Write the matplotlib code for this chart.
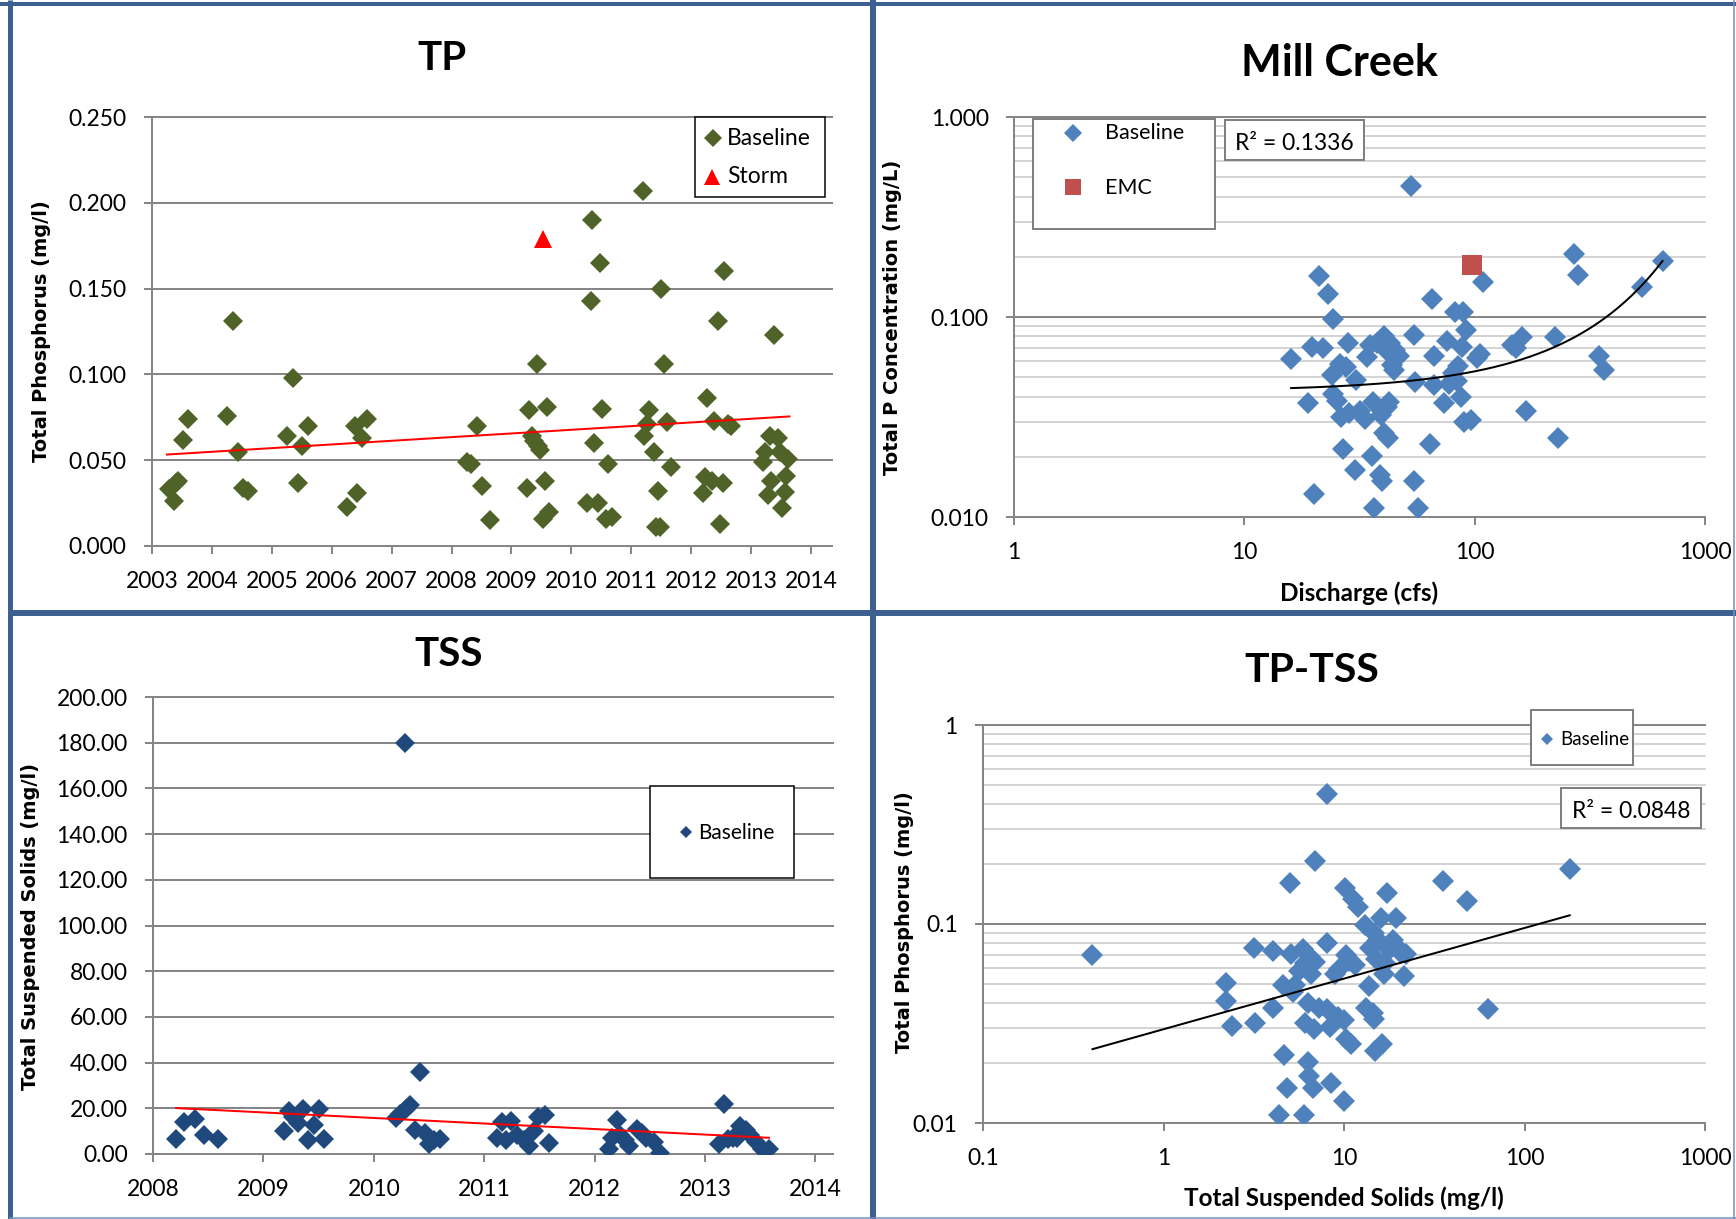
import numpy as np
import matplotlib
matplotlib.use("Agg")
import matplotlib.pyplot as plt
from matplotlib.ticker import NullLocator
from matplotlib.patches import Rectangle

# ---------------- data ----------------
# TP time series (decimal year, mg/l)
tp_baseline_year = [
    2003.28, 2003.36, 2003.40, 2003.44, 2003.51, 2003.60,
    2004.25, 2004.35, 2004.44, 2004.52, 2004.61,
    2005.25, 2005.35, 2005.43, 2005.51, 2005.60,
    2006.25, 2006.39, 2006.43, 2006.50, 2006.59,
    2008.26, 2008.33, 2008.42, 2008.51, 2008.64,
    2009.26, 2009.30, 2009.34, 2009.37, 2009.42, 2009.44, 2009.47, 2009.52, 2009.56, 2009.59, 2009.62,
    2010.26, 2010.32, 2010.35, 2010.38, 2010.45, 2010.48, 2010.51, 2010.58, 2010.61, 2010.67,
    2011.19, 2011.22, 2011.26, 2011.30, 2011.38, 2011.41, 2011.44, 2011.48, 2011.50, 2011.55, 2011.60, 2011.66,
    2012.20, 2012.23, 2012.27, 2012.34, 2012.38, 2012.44, 2012.48, 2012.53, 2012.55, 2012.62, 2012.67,
    2013.19, 2013.23, 2013.28, 2013.32, 2013.34, 2013.38, 2013.45, 2013.49, 2013.52, 2013.56, 2013.58, 2013.62,
]
tp_baseline_mgl = [
    0.0335, 0.026, 0.037, 0.038, 0.062, 0.074,
    0.076, 0.131, 0.055, 0.034, 0.032,
    0.064, 0.098, 0.037, 0.058, 0.070,
    0.023, 0.070, 0.031, 0.063, 0.074,
    0.049, 0.048, 0.070, 0.035, 0.015,
    0.034, 0.079, 0.064, 0.061, 0.106, 0.058, 0.056, 0.016, 0.038, 0.081, 0.020,
    0.025, 0.143, 0.190, 0.060, 0.025, 0.165, 0.080, 0.016, 0.048, 0.017,
    0.207, 0.064, 0.071, 0.079, 0.055, 0.011, 0.032, 0.011, 0.150, 0.106, 0.072, 0.046,
    0.031, 0.040, 0.086, 0.038, 0.073, 0.131, 0.013, 0.037, 0.160, 0.071, 0.070,
    0.049, 0.055, 0.030, 0.064, 0.038, 0.123, 0.063, 0.055, 0.022, 0.0315, 0.041, 0.0505,
]
tp_storm_year = [2009.52]
tp_storm_mgl = [0.179]
tp_trend_year = [2003.25, 2013.64]
tp_trend_mgl = [0.0533, 0.0755]
tp_year_ticks = list(range(2003, 2015))
tp_value_ticks = [0.0, 0.05, 0.10, 0.15, 0.20, 0.25]

# Mill Creek: discharge (cfs) vs total P (mg/L)
mc_discharge = [
    15.96, 18.9, 19.7, 20.0, 21.0, 22.0, 23.0, 24.0, 24.2, 24.2,
    25.3, 25.9, 26.2, 26.9, 27.6, 28.2, 28.6, 30.2, 30.5, 31.9,
    33.3, 34.1, 35.0, 35.9, 36.3, 36.7, 37.6, 38.8, 39.1, 39.6,
    40.2, 40.6, 41.4, 41.8, 42.0, 42.5, 43.1, 43.8, 44.6, 45.0,
    46.8, 53.0, 54.6, 54.8, 55.0, 56.6, 63.8, 65.2, 66.3, 66.3,
    73.9, 75.9, 77.4, 80.3, 81.8, 83.5, 85.0, 87.4, 88.3, 89.1,
    89.6, 91.9, 96.5, 102, 105.5, 108.7, 145, 151, 160, 167,
    223, 229, 271, 282, 346, 366, 532, 654,
]
mc_conc = [
    0.0616, 0.0372, 0.0711, 0.0130, 0.161, 0.070, 0.130, 0.0513, 0.098, 0.0412,
    0.038, 0.058, 0.0318, 0.022, 0.056, 0.0744, 0.033, 0.0171, 0.0486, 0.034,
    0.031, 0.063, 0.0728, 0.0201, 0.0378, 0.0111, 0.0744, 0.0162, 0.0325, 0.0151,
    0.0807, 0.0263, 0.068, 0.0355, 0.0249, 0.0378, 0.0744, 0.0575, 0.0544, 0.068,
    0.064, 0.451, 0.0151, 0.0815, 0.0474, 0.0111, 0.0232, 0.123, 0.0455, 0.064,
    0.0372, 0.076, 0.0465, 0.0525, 0.1065, 0.048, 0.0567, 0.0399, 0.0711, 0.1065,
    0.0297, 0.0859, 0.0306, 0.0622, 0.0652, 0.149, 0.0728, 0.0697, 0.0794, 0.034,
    0.0794, 0.0249, 0.207, 0.163, 0.064, 0.0544, 0.141, 0.1906,
]
mc_emc_discharge = [97.5]
mc_emc_conc = [0.182]
mc_fit_coef = [0.04252, 0.002294]        # C = a * exp(b * Q)
mc_fit_range = [15.96, 654]
mc_r2_label = "R² = 0.1336"
mc_x_ticks = [1, 10, 100, 1000]
mc_x_labels = ["1", "10", "100", "1000"]
mc_y_ticks = [0.01, 0.1, 1.0]
mc_y_labels = ["0.010", "0.100", "1.000"]

# TSS time series (decimal year, mg/l)
tss_year = [
    2008.21, 2008.28, 2008.38, 2008.46, 2008.59,
    2009.19, 2009.23, 2009.27, 2009.31, 2009.36, 2009.40, 2009.46, 2009.50, 2009.55,
    2010.20, 2010.24, 2010.28, 2010.29, 2010.33, 2010.37, 2010.42, 2010.46, 2010.50, 2010.55, 2010.60,
    2011.12, 2011.16, 2011.20, 2011.24, 2011.30, 2011.36, 2011.41, 2011.45, 2011.49, 2011.55, 2011.59,
    2012.13, 2012.16, 2012.20, 2012.23, 2012.28, 2012.31, 2012.38, 2012.43, 2012.47, 2012.54, 2012.59,
    2013.13, 2013.17, 2013.21, 2013.25, 2013.29, 2013.32, 2013.37, 2013.41, 2013.46, 2013.52, 2013.58,
]
tss_mgl = [
    6.5, 14, 15.3, 8.5, 6.5,
    9.9, 19, 16, 13.6, 19.6, 6, 12.8, 19.6, 6.5,
    15.6, 17.5, 180, 19.6, 21.3, 10.7, 35.7, 9.4, 4.3, 6, 6.5,
    6.8, 14, 6, 14.5, 8.5, 6, 3.7, 10.2, 16, 17, 4.8,
    2, 6.8, 15, 8.5, 6, 3.4, 11, 9.4, 6.8, 5.1, 0.3,
    4.3, 21.8, 6.5, 6.8, 6.8, 12.2, 10.5, 8.5, 5.1, 2, 2,
]
tss_trend_year = [2008.21, 2013.58]
tss_trend_mgl = [20.1, 7.1]
tss_year_ticks = list(range(2008, 2015))
tss_value_ticks = list(range(0, 201, 20))

# TP vs TSS (mg/l)
tptss_tss = [
    0.404, 2.22, 2.22, 2.39, 3.19, 3.21, 4.02, 4.02, 4.38, 4.58,
    4.65, 4.82, 5.0, 5.06, 5.2, 5.35, 5.65, 5.95, 6.0, 6.05,
    6.1, 6.3, 6.3, 6.4, 6.5, 6.6, 6.7, 6.8, 6.9, 6.9,
    7.3, 8.0, 8.0, 8.1, 8.4, 8.5, 8.9, 9.3, 9.4, 9.95,
    9.95, 10.1, 10.2, 10.2, 10.6, 11.0, 11.2, 11.5, 12.0, 13.1,
    13.2, 13.8, 14.0, 14.4, 14.6, 14.6, 14.9, 15.1, 15.5, 16.0,
    16.3, 16.6, 16.9, 17.3, 17.8, 18.4, 18.7, 19.3, 19.8, 20.8,
    21.6, 22.1, 35.2, 48.1, 63.0, 178,
]
tptss_tp = [
    0.0697, 0.0508, 0.041, 0.0307, 0.0755, 0.0318, 0.073, 0.038, 0.011, 0.0496,
    0.0219, 0.015, 0.16, 0.0703, 0.0455, 0.0496, 0.0583, 0.0745, 0.011, 0.0318,
    0.064, 0.0202, 0.04, 0.0173, 0.0679, 0.056, 0.015, 0.0297, 0.0644, 0.2066,
    0.038, 0.45, 0.0804, 0.0375, 0.0305, 0.0158, 0.056, 0.0342, 0.0594, 0.0328,
    0.0129, 0.151, 0.0697, 0.0263, 0.0655, 0.0249, 0.1336, 0.0623, 0.122, 0.099,
    0.038, 0.0487, 0.0755, 0.0356, 0.0333, 0.0905, 0.023, 0.0666, 0.0834, 0.1067,
    0.025, 0.056, 0.064, 0.143, 0.0743, 0.0797, 0.0834, 0.1067, 0.0761, 0.0712,
    0.0545, 0.0703, 0.165, 0.1306, 0.0372, 0.189,
]
tptss_fit_coef = [0.02959, 0.2544]       # TP = a * TSS ** b
tptss_fit_range = [0.404, 178]
tptss_r2_label = "R² = 0.0848"
tptss_x_ticks = [0.1, 1, 10, 100, 1000]
tptss_x_labels = ["0.1", "1", "10", "100", "1000"]
tptss_y_ticks = [0.01, 0.1, 1]
tptss_y_labels = ["0.01", "0.1", "1"]

# ---------------- styling ----------------
W, H = 1736, 1219
PT = 0.72                      # points per pixel at 100 dpi
GRID = "#868686"
MINOR = "#C6C6C6"
BORDER = "#3C6090"
GREEN = "#4F6228"
NAVY = "#1F497D"
BLUE = "#4F81BD"
BRICK = "#C0504D"

plt.rcParams["font.family"] = ["Lato", "DejaVu Sans"]

fig = plt.figure(figsize=(W / 100, H / 100), dpi=100)
fig.patch.set_facecolor("white")


def px_axes(left, top, right, bottom):
    return fig.add_axes([left / W, 1 - bottom / H, (right - left) / W, (bottom - top) / H])


def style_axes(ax):
    for s in ("top", "right"):
        ax.spines[s].set_visible(False)
    for s in ("left", "bottom"):
        ax.spines[s].set_color(GRID)
        ax.spines[s].set_linewidth(2 * PT)
        ax.spines[s].set_zorder(2.5)
    ax.tick_params(which="major", direction="out", length=8 * PT, width=2 * PT,
                   color=GRID, labelsize=16.5, labelcolor="black")
    ax.tick_params(axis="y", pad=12.5)
    ax.tick_params(axis="x", pad=12.5)
    ax.set_facecolor("white")


def hgrid(ax, values, color, lw):
    for v in values:
        ax.axhline(v, color=color, lw=lw, zorder=1, clip_on=False)


# ---- TP over time ----
ax1 = px_axes(152, 117, 832, 546)
style_axes(ax1)
ax1.set_xlim(2003, 2014.35)
ax1.set_ylim(0, 0.25)
ax1.set_xticks(tp_year_ticks, [str(y) for y in tp_year_ticks])
ax1.set_yticks(tp_value_ticks, [f"{v:.3f}" for v in tp_value_ticks])
hgrid(ax1, tp_value_ticks[1:], GRID, 2 * PT)
ax1.plot(tp_baseline_year, tp_baseline_mgl, "D", color=GREEN, ms=9.9, mew=0, zorder=3)
ax1.plot(tp_storm_year, tp_storm_mgl, "^", color="#FF0000", ms=12.8, mew=0, zorder=3)
ax1.plot(tp_trend_year, tp_trend_mgl, color="#FF0000", lw=2 * PT, zorder=4)

# ---- Mill Creek: concentration vs discharge ----
ax2 = px_axes(1014, 117, 1705, 517)
style_axes(ax2)
ax2.set_xscale("log")
ax2.set_yscale("log")
ax2.set_xlim(1, 1000)
ax2.set_ylim(0.01, 1)
ax2.set_xticks(mc_x_ticks, mc_x_labels)
ax2.set_yticks(mc_y_ticks, mc_y_labels)
ax2.xaxis.set_minor_locator(NullLocator())
ax2.yaxis.set_minor_locator(NullLocator())
hgrid(ax2, [k * d for d in (0.01, 0.1) for k in range(2, 10)], MINOR, 1.5 * PT)
hgrid(ax2, [0.1, 1.0], GRID, 2 * PT)
ax2.plot(mc_discharge, mc_conc, "D", color=BLUE, ms=11.2, mew=0, zorder=3)
ax2.plot(mc_emc_discharge, mc_emc_conc, "s", color=BRICK, ms=13.8, mew=0, zorder=3)
q = np.geomspace(mc_fit_range[0], mc_fit_range[1], 300)
ax2.plot(q, mc_fit_coef[0] * np.exp(mc_fit_coef[1] * q), color="black", lw=2 * PT, zorder=4)

# ---- TSS over time ----
ax3 = px_axes(153, 697, 833, 1154)
style_axes(ax3)
ax3.set_xlim(2008, 2014.16)
ax3.set_ylim(0, 200)
ax3.set_xticks(tss_year_ticks, [str(y) for y in tss_year_ticks])
ax3.set_yticks(tss_value_ticks, [f"{v:.2f}" for v in tss_value_ticks])
hgrid(ax3, tss_value_ticks[1:], GRID, 2 * PT)
ax3.plot(tss_year, tss_mgl, "D", color=NAVY, ms=9.8, mew=0, zorder=3)
ax3.plot(tss_trend_year, tss_trend_mgl, color="#FF0000", lw=2 * PT, zorder=4)

# ---- TP vs TSS ----
ax4 = px_axes(983, 725, 1705, 1123)
style_axes(ax4)
ax4.set_xscale("log")
ax4.set_yscale("log")
ax4.set_xlim(0.1, 1000)
ax4.set_ylim(0.01, 1)
ax4.set_xticks(tptss_x_ticks, tptss_x_labels)
ax4.set_yticks(tptss_y_ticks, tptss_y_labels)
ax4.xaxis.set_minor_locator(NullLocator())
ax4.yaxis.set_minor_locator(NullLocator())
hgrid(ax4, [k * d for d in (0.01, 0.1) for k in range(2, 10)], MINOR, 1.5 * PT)
hgrid(ax4, [0.1, 1.0], GRID, 2 * PT)
ax4.plot(tptss_tss, tptss_tp, "D", color=BLUE, ms=11.0, mew=0, zorder=3)
s = np.geomspace(tptss_fit_range[0], tptss_fit_range[1], 100)
ax4.plot(s, tptss_fit_coef[0] * s ** tptss_fit_coef[1], color="black", lw=2 * PT, zorder=4)

# ---------------- overlay in pixel coordinates ----------------
ov = fig.add_axes([0, 0, 1, 1])
ov.set_xlim(0, W)
ov.set_ylim(H, 0)
ov.axis("off")
ov.set_zorder(10)

# panel frames
ov.plot([9.5, 9.5], [0, H], color=BORDER, lw=5 * PT, solid_capstyle="butt")
ov.plot([0, W], [4, 4], color=BORDER, lw=4 * PT, solid_capstyle="butt")
ov.plot([873, 873], [0, H], color=BORDER, lw=6 * PT, solid_capstyle="butt")
ov.plot([9.5, W], [613, 613], color=BORDER, lw=6 * PT, solid_capstyle="butt")
ov.plot([1733.5, 1733.5], [0, H], color="#6F8FC0", lw=1.5 * PT)
ov.plot([9.5, W], [1217.5, 1217.5], color="#6F8FC0", lw=1.5 * PT)

TITLE = dict(fontweight="bold", ha="center", va="baseline", color="black")
ov.text(442, 70, "TP", fontsize=29, **TITLE)
ov.text(1339, 76, "Mill Creek", fontsize=31, **TITLE)
ov.text(449, 666, "TSS", fontsize=29, **TITLE)
ov.text(1312, 682, "TP-TSS", fontsize=29.5, **TITLE)

YLAB = dict(fontsize=14, fontweight="bold", family=["DejaVu Sans"], rotation=90,
            ha="center", va="center", color="black")
ov.text(42, 331, "Total Phosphorus (mg/l)", **YLAB)
ov.text(892, 317, "Total P Concentration (mg/L)", **YLAB)
ov.text(31, 926, "Total Suspended Solids (mg/l)", **YLAB)
ov.text(904, 922, "Total Phosphorus (mg/l)", **YLAB)

XLAB = dict(fontsize=17.5, fontweight="bold", ha="center", va="baseline", color="black")
ov.text(1359, 601, "Discharge (cfs)", **XLAB)
ov.text(1344, 1206, "Total Suspended Solids (mg/l)", **XLAB)


def box(x, y, w, h, edge, lw):
    ov.add_patch(Rectangle((x, y), w, h, facecolor="white", edgecolor=edge, lw=lw * PT, zorder=5))


# TP legend
box(695, 117, 130, 80, "black", 1.5)
ov.plot([713], [138], "D", color=GREEN, ms=8.9, mew=0, zorder=6)
ov.plot([712], [177], "^", color="#FF0000", ms=11.5, mew=0, zorder=6)
ov.text(727, 145, "Baseline", fontsize=16.5, va="baseline", zorder=6)
ov.text(727, 183, "Storm", fontsize=16.5, va="baseline", zorder=6)

# Mill Creek legend and R² box
box(1033, 119, 182, 110, "#808080", 2)
ov.plot([1073], [133], "D", color=BLUE, ms=9.3, mew=0, zorder=6)
ov.plot([1073], [187], "s", color=BRICK, ms=11.8, mew=0, zorder=6)
ov.text(1105, 139, "Baseline", fontsize=15.5, va="baseline", zorder=6)
ov.text(1105, 194, "EMC", fontsize=15.5, va="baseline", zorder=6)
box(1225, 120, 139, 40, "#808080", 2)
ov.text(1294.5, 150, mc_r2_label, fontsize=16.5, ha="center", va="baseline", zorder=6)

# TSS legend
box(650, 786, 144, 92, "black", 1.5)
ov.plot([686], [832], "D", color=NAVY, ms=6.5, mew=0, zorder=6)
ov.text(698, 839, "Baseline", fontsize=15, va="baseline", zorder=6)

# TP-TSS legend and R² box
box(1531, 710, 102, 55, "#808080", 2)
ov.plot([1547], [739], "D", color=BLUE, ms=5.9, mew=0, zorder=6)
ov.text(1560, 745, "Baseline", fontsize=13.5, va="baseline", zorder=6)
box(1561, 788, 140, 40, "#808080", 2)
ov.text(1631, 818, tptss_r2_label, fontsize=16.5, ha="center", va="baseline", zorder=6)

fig.savefig("out.png", dpi=100, facecolor="white")
